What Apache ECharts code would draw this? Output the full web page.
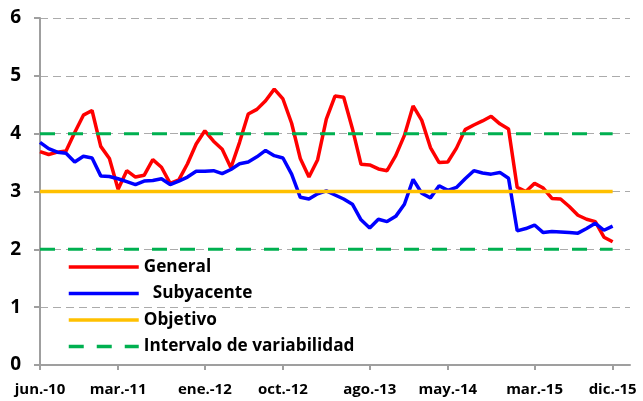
<!DOCTYPE html>
<html>
<head>
<meta charset="utf-8">
<script src="https://cdn.jsdelivr.net/npm/echarts@6/dist/echarts.min.js"></script>
<style>
  html, body { margin: 0; padding: 0; background: #fff; }
  #chart { width: 643px; height: 401px; }
</style>
</head>
<body>
<div id="chart"></div>
<script>
// meses jun.-10 ... feb.-16 (los dos ultimos sin datos, el eje llega hasta ahi)
var meses = ['ene.', 'feb.', 'mar.', 'abr.', 'may.', 'jun.', 'jul.', 'ago.', 'sep.', 'oct.', 'nov.', 'dic.'];
var categorias = [];
for (var a = 2010; a <= 2016; a++) {
  for (var m = 0; m < 12; m++) {
    if (a === 2010 && m < 5) continue;
    if (a === 2016 && m > 1) continue;
    categorias.push(meses[m] + '-' + String(a).slice(2));
  }
}

var etiquetas = ['jun.-10', 'mar.-11', 'ene.-12', 'oct.-12', 'ago.-13', 'may.-14', 'mar.-15', 'dic.-15'];

var general = [
  3.69, 3.64, 3.68, 3.70, 4.02, 4.32, 4.40,
  3.78, 3.57, 3.04, 3.36, 3.25, 3.28, 3.55, 3.42, 3.14, 3.20, 3.48, 3.82,
  4.05, 3.87, 3.73, 3.41, 3.85, 4.34, 4.42, 4.57, 4.77, 4.60, 4.18, 3.57,
  3.25, 3.55, 4.25, 4.65, 4.63, 4.09, 3.47, 3.46, 3.39, 3.36, 3.62, 3.97,
  4.48, 4.23, 3.76, 3.50, 3.51, 3.75, 4.07, 4.15, 4.22, 4.30, 4.17, 4.08,
  3.07, 3.00, 3.14, 3.06, 2.88, 2.87, 2.74, 2.59, 2.52, 2.48, 2.21, 2.13
];

var subyacente = [
  3.85, 3.74, 3.68, 3.66, 3.51, 3.61, 3.58,
  3.27, 3.26, 3.22, 3.17, 3.12, 3.18, 3.19, 3.22, 3.12, 3.18, 3.25, 3.35,
  3.35, 3.36, 3.31, 3.38, 3.48, 3.51, 3.60, 3.71, 3.62, 3.58, 3.30, 2.90,
  2.87, 2.96, 3.01, 2.94, 2.87, 2.78, 2.51, 2.37, 2.52, 2.48, 2.57, 2.78,
  3.21, 2.97, 2.89, 3.10, 3.02, 3.07, 3.22, 3.36, 3.32, 3.30, 3.33, 3.23,
  2.32, 2.36, 2.42, 2.29, 2.31, 2.30, 2.29, 2.28, 2.36, 2.45, 2.33, 2.40
];

// meta 3% con intervalo 2% - 4%
var objetivo = general.map(function () { return 3; });
var limiteSup = general.map(function () { return 4; });
var limiteInf = general.map(function () { return 2; });

var fuente = 'Open Sans';
var gris = '#9f9f9f';

var myChart = echarts.init(document.getElementById('chart'));

function esEtiqueta(i, v) {
  return etiquetas.indexOf(categorias[i]) >= 0;
}

myChart.setOption({
  animation: false,
  backgroundColor: '#fff',
  grid: { left: 40, right: 13, top: 18, bottom: 36 },
  legend: {
    orient: 'vertical',
    left: 62,
    top: 253,
    itemWidth: 70,
    itemHeight: 14,
    itemGap: 8.5,
    data: ['General', '  Subyacente', 'Objetivo', 'Intervalo de variabilidad'],
    itemStyle: { opacity: 0 },
    lineStyle: { width: 3.5 },
    textStyle: { fontFamily: fuente, fontWeight: 'bold', fontSize: 17.2, lineHeight: 18, color: '#000' }
  },
  xAxis: {
    type: 'category',
    data: categorias,
    boundaryGap: false,
    axisLine: { lineStyle: { color: gris, width: 2 } },
    axisTick: { show: true, interval: esEtiqueta, length: 5, lineStyle: { color: gris, width: 2 } },
    axisLabel: {
      interval: esEtiqueta,
      margin: 17,
      fontFamily: fuente, fontWeight: 'bold', fontSize: 15, color: '#000'
    },
    splitLine: { show: false }
  },
  yAxis: {
    type: 'value',
    min: 0,
    max: 6,
    interval: 1,
    axisLine: { show: true, lineStyle: { color: gris, width: 2 } },
    axisTick: { show: true, length: 6, lineStyle: { color: gris, width: 2 } },
    axisLabel: { margin: 19, fontFamily: fuente, fontWeight: 'bold', fontSize: 19, color: '#000' },
    splitLine: { show: true, lineStyle: { color: '#ababab', width: 1, type: [8, 5] } }
  },
  series: [
    {
      name: 'General', type: 'line', data: general, symbol: 'none',
      lineStyle: { color: '#ff0000', width: 3.5 }, itemStyle: { color: '#ff0000' }
    },
    {
      name: '  Subyacente', type: 'line', data: subyacente, symbol: 'none',
      lineStyle: { color: '#0000ff', width: 3.5 }, itemStyle: { color: '#0000ff' }
    },
    {
      name: 'Objetivo', type: 'line', data: objetivo, symbol: 'none',
      lineStyle: { color: '#ffc000', width: 3.5 }, itemStyle: { color: '#ffc000' }
    },
    {
      name: 'Intervalo de variabilidad', type: 'line', data: limiteSup, symbol: 'none',
      lineStyle: { color: '#00b050', width: 3, type: [15, 13] }, itemStyle: { color: '#00b050' }
    },
    {
      name: 'Intervalo de variabilidad', type: 'line', data: limiteInf, symbol: 'none',
      lineStyle: { color: '#00b050', width: 3, type: [15, 13] }, itemStyle: { color: '#00b050' }
    }
  ]
});

window.onresize = function () {
  myChart.resize();
};
</script>
</body>
</html>
